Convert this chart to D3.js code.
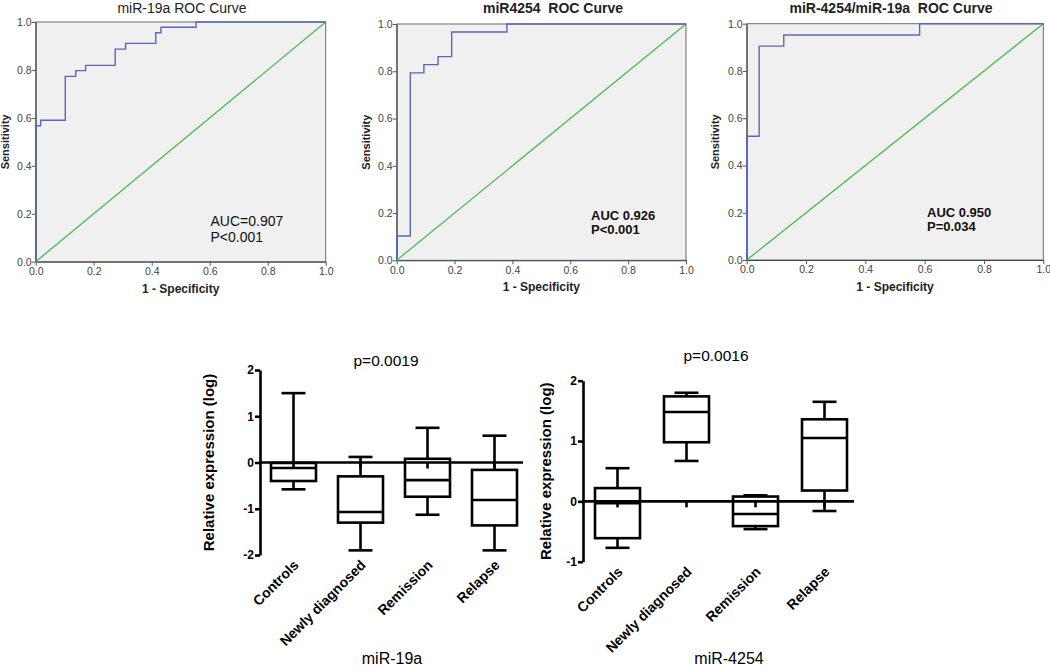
<!DOCTYPE html>
<html>
<head>
<meta charset="utf-8">
<script src="https://d3js.org/d3.v7.min.js"></script>
<style>
    body { margin: 0; background: #fff; }
    svg { font-family: Arial, "Liberation Sans", sans-serif; }
</style>
</head>
<body>
<div id="chartContainer"></div>
<script>
// ROC curve vertices: 1 - specificity (fpr) and sensitivity (tpr)
var roc19aFpr = [0, 0, 0.017, 0.102, 0.138, 0.172, 0.274, 0.31, 0.414, 0.432, 0.553, 1];
var roc19aTpr = [0, 0.567, 0.59, 0.773, 0.797, 0.819, 0.887, 0.911, 0.955, 0.978, 1, 1];

var roc4254Fpr = [0, 0, 0.047, 0.094, 0.143, 0.19, 0.381, 1];
var roc4254Tpr = [0, 0.103, 0.793, 0.828, 0.862, 0.966, 1, 1];

var rocRatioFpr = [0, 0, 0.042, 0.125, 0.583, 1];
var rocRatioTpr = [0, 0.524, 0.905, 0.952, 1, 1];

var rocTicks = [0, 0.2, 0.4, 0.6, 0.8, 1.0];

// box plots, relative expression (log)
var groups = ["Controls", "Newly diagnosed", "Remission", "Relapse"];

var mir19aMin = [-0.58, -1.9, -1.13, -1.9];
var mir19aQ1 = [-0.4, -1.3, -0.74, -1.36];
var mir19aMed = [-0.12, -1.07, -0.38, -0.81];
var mir19aQ3 = [-0.01, -0.3, 0.08, -0.16];
var mir19aMax = [1.5, 0.12, 0.75, 0.58];
var mir19aTicks = [-2, -1, 0, 1, 2];

var mir4254Min = [-0.77, 0.67, -0.46, -0.16];
var mir4254Q1 = [-0.61, 0.98, -0.41, 0.18];
var mir4254Med = [-0.03, 1.48, -0.21, 1.05];
var mir4254Q3 = [0.22, 1.74, 0.08, 1.36];
var mir4254Max = [0.55, 1.8, 0.1, 1.65];
var mir4254Ticks = [-1, 0, 1, 2];

var svg = d3.select("#chartContainer")
    .append("svg")
    .attr("width", 1050)
    .attr("height", 668);

function drawRoc(c) {
    var x = d3.scaleLinear().domain([0, 1]).range([c.left, c.right]);
    var y = d3.scaleLinear().domain([0, 1]).range([c.bottom, c.top]);
    var g = svg.append("g");

    g.append("rect")
        .attr("x", x(0)).attr("y", y(1))
        .attr("width", x(1) - x(0)).attr("height", y(0) - y(1))
        .attr("fill", "#f0f0f0")
        .attr("stroke", "#6b6b6b")
        .attr("stroke-width", 1);

    var ya = g.append("g")
        .attr("transform", `translate(${x(0)},0)`)
        .call(d3.axisLeft(y).tickValues(rocTicks).tickFormat(d3.format(".1f")).tickSize(4).tickSizeOuter(0));
    var xa = g.append("g")
        .attr("transform", `translate(0,${y(0)})`)
        .call(d3.axisBottom(x).tickValues(rocTicks).tickFormat(d3.format(".1f")).tickSize(4).tickSizeOuter(0));
    [ya, xa].forEach(function (a) {
        a.select(".domain").attr("stroke", "#444");
        a.selectAll(".tick line").attr("stroke", "#555");
        a.selectAll(".tick text").attr("fill", "#444").style("font-size", "10.5px");
    });
    ya.selectAll(".tick text").attr("x", -4);
    xa.selectAll(".tick text").attr("y", 6);

    // reference diagonal
    g.append("line")
        .attr("x1", x(0)).attr("y1", y(0))
        .attr("x2", x(1)).attr("y2", y(1))
        .attr("stroke", "#4cbb4c")
        .attr("stroke-width", 1.3);

    var pts = c.fpr.map(function (f, i) { return [f, c.tpr[i]]; });
    var line = d3.line()
        .x(function (d) { return x(d[0]); })
        .y(function (d) { return y(d[1]); })
        .curve(d3.curveStepAfter);
    g.append("path")
        .datum(pts)
        .attr("fill", "none")
        .attr("stroke", "#5868b8")
        .attr("stroke-width", 1.4)
        .attr("d", line);

    g.append("text")
        .attr("x", c.titleX).attr("y", c.titleY)
        .attr("text-anchor", "middle")
        .attr("font-weight", c.bold ? "bold" : "normal")
        .attr("fill", "#222")
        .style("font-size", "14px")
        .style("white-space", "pre")
        .text(c.title);

    g.append("text")
        .attr("transform", `translate(${c.ylabX},${(c.top + c.bottom) / 2}) rotate(-90)`)
        .attr("text-anchor", "middle")
        .attr("font-weight", "bold")
        .attr("fill", "#222")
        .style("font-size", "11px")
        .text("Sensitivity");

    g.append("text")
        .attr("x", (c.left + c.right) / 2).attr("y", c.bottom + 31)
        .attr("text-anchor", "middle")
        .attr("font-weight", "bold")
        .attr("fill", "#222")
        .style("font-size", "12px")
        .text("1 - Specificity");

    c.auc.forEach(function (t, i) {
        g.append("text")
            .attr("x", c.aucX).attr("y", c.aucY + i * c.aucStep)
            .attr("font-weight", c.bold ? "bold" : "normal")
            .attr("fill", "#111")
            .style("font-size", c.bold ? "13px" : "14px")
            .text(t);
    });
}

drawRoc({
    left: 35.7, right: 325.7, top: 22, bottom: 261.7,
    fpr: roc19aFpr, tpr: roc19aTpr,
    title: "miR-19a ROC Curve", titleX: 182, titleY: 13, bold: false,
    ylabX: 9, auc: ["AUC=0.907", "P<0.001"], aucX: 210.5, aucY: 226, aucStep: 16
});
drawRoc({
    left: 396.7, right: 686, top: 24, bottom: 260.3,
    fpr: roc4254Fpr, tpr: roc4254Tpr,
    title: "miR4254  ROC Curve", titleX: 553, titleY: 13, bold: true,
    ylabX: 370, auc: ["AUC 0.926", "P<0.001"], aucX: 591, aucY: 220, aucStep: 13.5
});
drawRoc({
    left: 746.7, right: 1043.3, top: 23.7, bottom: 260,
    fpr: rocRatioFpr, tpr: rocRatioTpr,
    title: "miR-4254/miR-19a  ROC Curve", titleX: 891, titleY: 13, bold: true,
    ylabX: 719, auc: ["AUC 0.950", "P=0.034"], aucX: 927, aucY: 217, aucStep: 13.5
});

function drawBox(c) {
    var x = d3.scaleBand().domain(groups).range([c.left, c.right]);
    var y = d3.scaleLinear().domain(c.domain).range([c.bottom, c.top]);
    var g = svg.append("g");
    var bw = 45, cap = 24, lw = 2.6;

    var ya = g.append("g")
        .attr("transform", `translate(${c.left},0)`)
        .call(d3.axisLeft(y).tickValues(c.ticks).tickFormat(function (d) { return String(d); })
            .tickSize(5).tickSizeOuter(0));
    ya.select(".domain").attr("stroke", "#000").attr("stroke-width", lw);
    ya.selectAll(".tick line").attr("stroke", "#000").attr("stroke-width", lw);
    ya.selectAll(".tick text")
        .attr("x", -6)
        .attr("fill", "#000")
        .attr("font-weight", "bold")
        .style("font-size", "12px");

    // x axis crosses at zero
    g.append("line")
        .attr("x1", c.left - 1).attr("x2", c.right - 5)
        .attr("y1", y(0)).attr("y2", y(0))
        .attr("stroke", "#000").attr("stroke-width", lw);

    groups.forEach(function (grp, i) {
        var cx = x(grp) + x.bandwidth() / 2;
        var bg = g.append("g")
            .attr("fill", "none")
            .attr("stroke", "#000")
            .attr("stroke-width", lw);
        bg.append("line").attr("x1", cx).attr("x2", cx).attr("y1", y(0)).attr("y2", y(0) + 6);
        bg.append("line").attr("x1", cx).attr("x2", cx).attr("y1", y(c.max[i])).attr("y2", y(c.q3[i]));
        bg.append("line").attr("x1", cx).attr("x2", cx).attr("y1", y(c.q1[i])).attr("y2", y(c.min[i]));
        bg.append("line").attr("x1", cx - cap / 2).attr("x2", cx + cap / 2).attr("y1", y(c.max[i])).attr("y2", y(c.max[i]));
        bg.append("line").attr("x1", cx - cap / 2).attr("x2", cx + cap / 2).attr("y1", y(c.min[i])).attr("y2", y(c.min[i]));
        bg.append("rect")
            .attr("x", cx - bw / 2).attr("width", bw)
            .attr("y", y(c.q3[i])).attr("height", y(c.q1[i]) - y(c.q3[i]));
        bg.append("line").attr("x1", cx - bw / 2).attr("x2", cx + bw / 2).attr("y1", y(c.med[i])).attr("y2", y(c.med[i]));

        g.append("text")
            .attr("transform", `translate(${cx + 6},${c.bottom + 11}) rotate(-45)`)
            .attr("text-anchor", "end")
            .attr("font-weight", "bold")
            .style("font-size", "14px")
            .text(grp);
    });

    g.append("text")
        .attr("transform", `translate(${c.ylabX},${(c.top + c.bottom) / 2}) rotate(-90)`)
        .attr("text-anchor", "middle")
        .attr("font-weight", "bold")
        .style("font-size", "15px")
        .text("Relative expression (log)");

    g.append("text")
        .attr("x", c.pX).attr("y", c.pY)
        .attr("text-anchor", "middle")
        .style("font-size", "15.5px")
        .text(c.pText);

    g.append("text")
        .attr("x", c.subX).attr("y", 664)
        .attr("text-anchor", "middle")
        .style("font-size", "16px")
        .text(c.sub);
}

drawBox({
    left: 260, right: 528, top: 370, bottom: 555, domain: [-2, 2], ticks: mir19aTicks,
    min: mir19aMin, q1: mir19aQ1, med: mir19aMed, q3: mir19aQ3, max: mir19aMax,
    ylabX: 214, pText: "p=0.0019", pX: 386, pY: 366, sub: "miR-19a", subX: 392
});
drawBox({
    left: 583, right: 859, top: 380.7, bottom: 561.7, domain: [-1, 2], ticks: mir4254Ticks,
    min: mir4254Min, q1: mir4254Q1, med: mir4254Med, q3: mir4254Q3, max: mir4254Max,
    ylabX: 551, pText: "p=0.0016", pX: 716, pY: 361, sub: "miR-4254", subX: 729
});
</script>
</body>
</html>
